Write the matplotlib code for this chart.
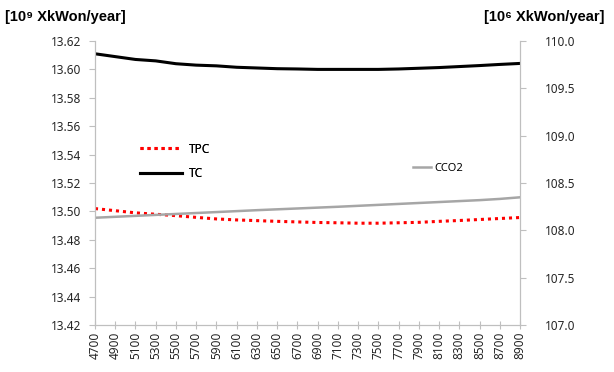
import matplotlib
matplotlib.use('Agg')
import matplotlib.pyplot as plt

# данные
X = [4700, 4900, 5100, 5300, 5500, 5700, 5900, 6100, 6300, 6500, 6700,
     6900, 7100, 7300, 7500, 7700, 7900, 8100, 8300, 8500, 8700, 8900]
TC = [13.611, 13.609, 13.607, 13.606, 13.604, 13.603, 13.6025, 13.6015, 13.601, 13.6005, 13.6003,
      13.600, 13.600, 13.600, 13.600, 13.6003, 13.6008, 13.6013, 13.602, 13.6027, 13.6035, 13.6042]
TPC = [13.502, 13.5005, 13.499, 13.498, 13.497, 13.4958, 13.4947, 13.494, 13.4935, 13.493, 13.4926,
       13.4922, 13.492, 13.4917, 13.4917, 13.492, 13.4923, 13.493, 13.4936, 13.4943, 13.495, 13.4957]
CCO2 = [108.133, 108.143, 108.153, 108.163, 108.173, 108.183, 108.193, 108.203, 108.213, 108.222, 108.231,
        108.240, 108.249, 108.259, 108.269, 108.279, 108.289, 108.299, 108.309, 108.319, 108.332, 108.349]

left_ticks = [13.42, 13.44, 13.46, 13.48, 13.50, 13.52, 13.54, 13.56, 13.58, 13.60, 13.62]
right_ticks = [107.0, 107.5, 108.0, 108.5, 109.0, 109.5, 110.0]

plt.rcParams['font.family'] = ['Noto Sans', 'DejaVu Sans']

fig = plt.figure(figsize=(6.14, 3.72), dpi=100)
ax = fig.add_axes([0.1547, 0.1263, 0.6923, 0.7635])
ax2 = ax.twinx()

n = list(range(len(X)))
tpc, = ax.plot(n, TPC, color='red', linestyle=(0, (1, 1.3)), linewidth=2.2, label='TPC')
tc, = ax.plot(n, TC, color='black', linewidth=2.2, label='TC')
cco2, = ax2.plot(n, CCO2, color='#a6a6a6', linewidth=1.8, label='CCO2')

ax.set_xlim(0, len(X) - 1)
ax.set_ylim(13.42, 13.62)
ax2.set_ylim(107.0, 110.0)
ax.set_xticks(n)
ax.set_xticklabels([str(i) for i in X], rotation=90)
ax.set_yticks(left_ticks)
ax.set_yticklabels(['%.2f' % v for v in left_ticks])
ax2.set_yticks(right_ticks)
ax2.set_yticklabels(['%.1f' % v for v in right_ticks])

for a in (ax, ax2):
    for s in a.spines.values():
        s.set_color('#bfbfbf')
    a.spines['top'].set_visible(False)
    a.tick_params(colors='#bfbfbf', labelcolor='#262626', labelsize=8.5, length=4)
ax.tick_params(axis='x', direction='inout', length=6, pad=2)
ax.tick_params(axis='y', pad=6)
ax2.tick_params(axis='y', pad=14)

leg1 = ax.legend(handles=[tpc, tc], loc='upper left', bbox_to_anchor=(0.08, 0.68),
                 frameon=False, fontsize=8.5, handlelength=3.6, handletextpad=0.6,
                 labelspacing=0.95)
ax.add_artist(leg1)
ax2.legend(handles=[cco2], loc='upper left', bbox_to_anchor=(0.725, 0.605),
           frameon=False, fontsize=8, handlelength=1.6, handletextpad=0.3)

fig.text(0.008, 0.955, '[10⁹ XkWon/year]', fontsize=10.5, fontweight='bold',
         family='Liberation Sans', va='center')
fig.text(0.985, 0.955, '[10⁶ XkWon/year]', fontsize=10.5, fontweight='bold',
         family='Liberation Sans', va='center', ha='right')

fig.savefig('out.png', dpi=100)
